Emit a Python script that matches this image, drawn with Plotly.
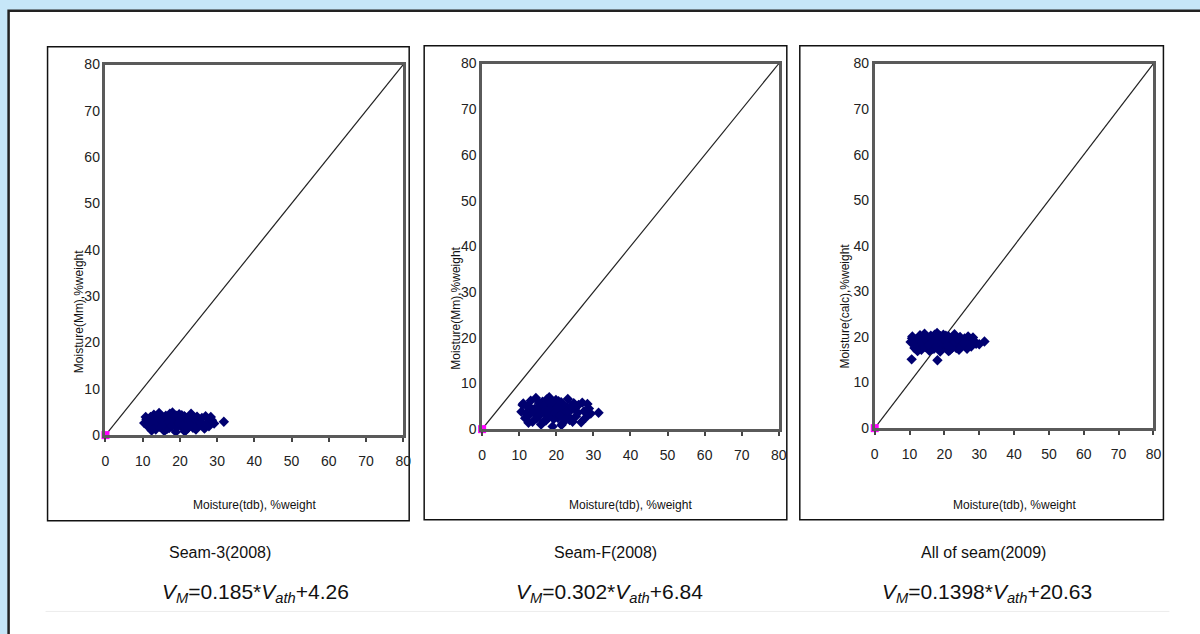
import plotly.graph_objects as go

W, H = 1200, 634

# ---------------- data ----------------
diag_x = [0, 80]
diag_y = [0, 80]
origin_x = [0]
origin_y = [0]
ticks = [0, 10, 20, 30, 40, 50, 60, 70, 80]

x1 = [10.4, 11.0, 11.5, 12.1, 12.6, 13.0, 13.5, 14.0, 14.4, 14.9, 15.3, 15.8, 16.2, 16.7, 17.1, 17.6, 18.0,
      18.5, 18.9, 19.4, 19.8, 20.3, 20.7, 21.2, 21.6, 22.1, 22.5, 23.0, 23.5, 24.0, 24.6, 25.2, 25.9, 26.6,
      27.4, 28.3, 29.2, 31.8,
      10.8, 11.7, 12.4, 13.2, 13.9, 14.6, 15.2, 15.9, 16.5, 17.3, 17.9, 18.6, 19.2, 19.9, 20.5, 21.3, 21.9,
      22.7, 23.4, 24.3, 25.0, 25.7, 26.9, 27.8, 28.6,
      13.7, 14.8, 15.6, 16.4, 17.0, 17.8, 18.3, 19.0, 19.6, 20.2, 20.9, 21.5, 22.2, 23.0, 23.8]
y1 = [2.6, 3.4, 1.8, 3.9, 2.2, 4.4, 1.2, 3.1, 4.8, 2.0, 3.6, 0.9, 4.2, 2.7, 1.5, 3.8, 4.9,
      2.3, 0.7, 3.3, 4.5, 1.9, 2.9, 4.1, 1.1, 3.5, 2.4, 4.6, 1.6, 3.0, 4.0, 2.1, 3.7, 1.4,
      2.8, 3.9, 2.5, 2.9,
      3.9, 2.5, 1.0, 3.2, 2.6, 1.8, 4.0, 3.0, 1.3, 4.6, 2.0, 3.5, 1.7, 2.4, 4.3, 0.8, 2.9,
      3.4, 2.0, 1.2, 3.3, 2.6, 4.1, 1.9, 3.2,
      2.8, 3.3, 2.3, 3.6, 2.9, 1.9, 3.1, 4.2, 2.6, 3.4, 2.2, 3.8, 1.5, 2.9, 3.6]

x2 = [10.6, 11.1, 11.6, 12.2, 12.7, 13.1, 13.6, 14.1, 14.5, 15.0, 15.4, 15.9, 16.3, 16.8, 17.2, 17.7, 18.1,
      18.6, 19.0, 19.5, 19.9, 20.4, 20.8, 21.3, 21.7, 22.2, 22.6, 23.1, 23.6, 24.1, 24.7, 25.3, 26.0, 26.7,
      27.5, 28.4, 29.3, 31.4,
      10.9, 11.8, 12.5, 13.3, 14.0, 14.7, 15.3, 16.0, 16.6, 17.4, 18.0, 18.7, 19.3, 20.0, 20.6, 21.4, 22.0,
      22.8, 23.5, 24.4, 25.1, 25.8, 27.0, 27.9, 28.8,
      13.8, 14.9, 15.7, 16.5, 17.1, 17.9, 18.4, 19.1, 19.7, 20.3, 21.0, 21.6, 22.3, 23.1, 23.9]
y2 = [3.8, 5.6, 2.4, 4.9, 3.1, 6.2, 1.6, 4.4, 6.8, 2.7, 5.1, 1.0, 6.0, 3.6, 1.9, 5.4, 7.0,
      3.0, 0.6, 4.7, 6.4, 2.5, 4.1, 5.9, 1.3, 5.0, 3.3, 6.6, 2.0, 4.3, 5.7, 2.8, 5.3, 1.5,
      3.9, 5.5, 3.4, 3.6,
      5.3, 3.5, 1.4, 4.5, 3.6, 2.3, 5.7, 4.2, 1.7, 6.5, 2.7, 5.0, 2.2, 3.3, 6.1, 0.9, 4.0,
      4.8, 2.6, 1.6, 4.6, 3.6, 5.8, 2.5, 4.5,
      3.9, 4.6, 3.2, 5.1, 4.1, 2.6, 4.4, 5.9, 3.6, 4.8, 3.0, 5.4, 2.0, 4.0, 5.1]

x3 = [10.3, 10.8, 11.4, 11.9, 12.5, 13.0, 13.4, 13.9, 14.3, 14.8, 15.2, 15.7, 16.1, 16.6, 17.0, 17.5, 17.9,
      18.4, 18.8, 19.3, 19.7, 20.2, 20.6, 21.1, 21.5, 22.0, 22.4, 22.9, 23.4, 23.9, 24.5, 25.1, 25.8, 26.5,
      27.3, 28.2, 29.1, 31.5,
      10.7, 11.6, 12.3, 13.1, 13.8, 14.5, 15.1, 15.8, 16.4, 17.2, 17.8, 18.5, 19.1, 19.8, 20.4, 21.2, 21.8,
      22.6, 23.3, 24.2, 24.9, 25.6, 26.8, 27.7, 28.5, 30.0,
      13.6, 14.7, 15.5, 16.3, 16.9, 17.7, 18.2, 18.9, 19.5, 20.1, 20.8, 21.4, 22.1, 22.9, 23.7,
      10.6, 18.0]
y3 = [18.9, 20.1, 17.6, 19.5, 18.2, 20.4, 17.2, 19.0, 20.7, 17.9, 19.6, 17.0, 20.3, 18.6, 17.4, 19.8, 20.9,
      18.3, 16.8, 19.3, 20.5, 17.8, 18.8, 20.2, 17.1, 19.4, 18.4, 20.6, 17.6, 19.1, 20.0, 18.1, 19.7, 17.4,
      18.9, 19.9, 18.5, 19.0,
      19.7, 18.4, 16.9, 19.2, 18.6, 17.8, 20.0, 19.0, 17.3, 20.5, 18.0, 19.5, 17.7, 18.5, 20.3, 16.9, 18.9,
      19.4, 18.0, 17.2, 19.3, 18.6, 20.1, 17.9, 19.2, 18.4,
      18.8, 19.3, 18.3, 19.6, 18.9, 17.9, 19.1, 20.2, 18.6, 19.4, 18.2, 19.8, 17.5, 18.9, 19.6,
      15.1, 14.9]

panels = [
    dict(x=x1, y=y1, dom=(105, 403, 63, 435), frame=(47, 409, 45, 521),
         ytitle="Moisture(Mm),%weight", ytpos=(78, 311),
         cap1="Seam-3(2008)", cap2="<i>V</i><sub><i>M</i></sub>=0.185*<i>V</i><sub><i>ath</i></sub>+4.26",
         cap1x=220, cap2x=255),
    dict(x=x2, y=y2, dom=(482, 779, 62, 429), frame=(424, 787, 44, 520),
         ytitle="Moisture(Mm),%weight", ytpos=(455, 308),
         cap1="Seam-F(2008)", cap2="<i>V</i><sub><i>M</i></sub>=0.302*<i>V</i><sub><i>ath</i></sub>+6.84",
         cap1x=606, cap2x=610),
    dict(x=x3, y=y3, dom=(875, 1154, 62, 428), frame=(800, 1164, 44, 520),
         ytitle="Moisture(calc),%weight", ytpos=(845, 305),
         cap1="All of seam(2009)", cap2="<i>V</i><sub><i>M</i></sub>=0.1398*<i>V</i><sub><i>ath</i></sub>+20.63",
         cap1x=984, cap2x=987),
]

NARROW = "Liberation Sans Narrow, Arial Narrow, Liberation Sans, Arial, sans-serif"
NAVY = "#000070"

# target pixel -> paper fraction (compensating the capture's slight rescale)
SX, OX = 0.991, 3.4
SY, OY = 0.9786, 6.2

def px(v):
    return ((v - OX) / SX) / W

def py(v):
    return 1 - ((v - OY) / SY) / H

fig = go.Figure()
shapes = []
annotations = []

# page background: white sheet with dark border over light blue
shapes.append(dict(type="rect", xref="paper", yref="paper", x0=px(8), x1=px(1215), y0=py(660), y1=py(9),
                   line=dict(color="#222222", width=2.5), fillcolor="white", layer="below"))
# faint separator line
shapes.append(dict(type="line", xref="paper", yref="paper", x0=px(45), x1=px(1170), y0=py(612), y1=py(612),
                   line=dict(color="#ececec", width=1), layer="below"))

for i, p in enumerate(panels, start=1):
    xa = "x" if i == 1 else f"x{i}"
    ya = "y" if i == 1 else f"y{i}"
    l, r, t, b = p["dom"]
    fl, fr, ft, fb = p["frame"]
    shapes.append(dict(type="rect", xref="paper", yref="paper", x0=px(fl), x1=px(fr), y0=py(fb), y1=py(ft),
                       line=dict(color="#111111", width=1.5), fillcolor="white", layer="below"))

    fig.add_trace(go.Scatter(x=diag_x, y=diag_y, mode="lines", line=dict(color="#222222", width=1.2),
                             xaxis=xa, yaxis=ya, showlegend=False, hoverinfo="skip"))
    fig.add_trace(go.Scatter(x=p["x"], y=p["y"], mode="markers",
                             marker=dict(symbol="diamond", size=8, color=NAVY, line=dict(width=0)),
                             xaxis=xa, yaxis=ya, showlegend=False, cliponaxis=False))
    fig.add_trace(go.Scatter(x=origin_x, y=origin_y, mode="markers",
                             marker=dict(symbol="square", size=8, color="#ff00ff", line=dict(width=0)),
                             xaxis=xa, yaxis=ya, showlegend=False, cliponaxis=False))

    axis_common = dict(range=[0, 80], tickvals=ticks, showgrid=False, zeroline=False,
                       showline=True, mirror=True, linecolor="#5a5a5a", linewidth=2.5,
                       tickfont=dict(family=NARROW, size=14, color="#222222"), fixedrange=True)
    fig.update_layout(**{
        ("xaxis" if i == 1 else f"xaxis{i}"): dict(axis_common, domain=[px(l), px(r)], anchor=ya,
                                                  ticks="outside", ticklen=4, tickwidth=1.5,
                                                  tickcolor="#444444", ticklabelstandoff=7),
        ("yaxis" if i == 1 else f"yaxis{i}"): dict(axis_common, domain=[py(b), py(t)], anchor=xa,
                                                  ticks="", ticklabelstandoff=0),
    })

    annotations.append(dict(xref="paper", yref="paper", x=px((l + r) / 2), y=py(505),
                            text="Moisture(tdb), %weight", showarrow=False,
                            font=dict(family=NARROW, size=12, color="#111111"),
                            xanchor="center", yanchor="middle"))
    annotations.append(dict(xref="paper", yref="paper", x=px(p["ytpos"][0]), y=py(p["ytpos"][1]),
                            text=p["ytitle"], showarrow=False, textangle=-90,
                            font=dict(family=NARROW, size=12, color="#111111"),
                            xanchor="center", yanchor="middle"))
    annotations.append(dict(xref="paper", yref="paper", x=px(p["cap1x"]), y=py(553),
                            text=p["cap1"], showarrow=False,
                            font=dict(family=NARROW, size=16, color="#111111"),
                            xanchor="center", yanchor="middle"))
    annotations.append(dict(xref="paper", yref="paper", x=px(p["cap2x"]), y=py(594),
                            text=p["cap2"], showarrow=False,
                            font=dict(family=NARROW, size=21, color="#111111"),
                            xanchor="center", yanchor="middle"))

fig.update_layout(autosize=True, margin=dict(l=0, r=0, t=0, b=0),
                  paper_bgcolor="#c6e6f8", plot_bgcolor="rgba(0,0,0,0)",
                  shapes=shapes, annotations=annotations, showlegend=False)

fig.write_html(
    "out.html",
    default_width="100vw",
    default_height="100vh",
    config={"displayModeBar": False},
    post_script=("document.documentElement.style.margin='0';document.documentElement.style.overflow='hidden';"
                 "document.body.style.margin='0';document.body.style.overflow='hidden';"),
)
